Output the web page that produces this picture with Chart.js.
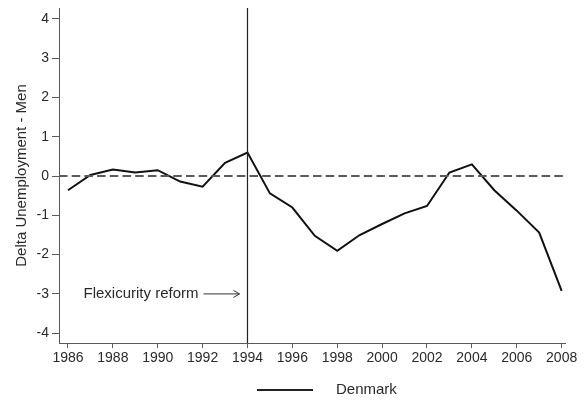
<!DOCTYPE html>
<html><head><meta charset="utf-8">
<script src="https://cdn.jsdelivr.net/npm/chart.js@4/dist/chart.umd.min.js"></script>
<style>html,body{margin:0;padding:0;background:#fff}#wrap{width:587px;height:401px}</style>
</head><body><div id="wrap"><canvas id="c" width="587" height="401"></canvas></div>
<script>
const years = [1986,1987,1988,1989,1990,1991,1992,1993,1994,1995,1996,1997,1998,1999,2000,2001,2002,2003,2004,2005,2006,2007,2008];
const denmark = [-0.36,0.03,0.17,0.09,0.15,-0.14,-0.27,0.34,0.60,-0.44,-0.80,-1.52,-1.90,-1.50,-1.22,-0.95,-0.76,0.09,0.30,-0.36,-0.88,-1.44,-2.92];
const xTicks = [1986,1988,1990,1992,1994,1996,1998,2000,2002,2004,2006,2008];
const yTicks = [-4,-3,-2,-1,0,1,2,3,4];
const reformYear = 1994;
const seriesName = 'Denmark';
const yTitle = 'Delta Unemployment - Men';
const annotationText = 'Flexicurity reform';
const annotationY = -3;
const xMin = 1985.6, xMax = 2008.15, yMin = -4.25, yMax = 4.28;

const FONT = '"Liberation Sans", Arial, Helvetica, sans-serif';
const AXIS = '#5a5a5a';
const TEXT = '#2a2a2a';

const extras = {
  id: 'extras',
  afterDatasetsDraw(chart) {
    const ctx = chart.ctx, xs = chart.scales.x, ys = chart.scales.y;
    ctx.save();
    const yy = ys.getPixelForValue(annotationY);
    const xr = xs.getPixelForValue(reformYear);
    ctx.font = '15px ' + FONT;
    ctx.fillStyle = TEXT;
    ctx.textAlign = 'right';
    ctx.textBaseline = 'middle';
    ctx.fillText(annotationText, xr - 49, yy);
    ctx.strokeStyle = '#333';
    ctx.lineWidth = 1;
    ctx.beginPath();
    ctx.moveTo(xr - 44, yy); ctx.lineTo(xr - 8, yy);
    ctx.moveTo(xr - 14, yy - 3.5); ctx.lineTo(xr - 8, yy); ctx.lineTo(xr - 14, yy + 3.5);
    ctx.stroke();
    const ly = 390;
    ctx.strokeStyle = '#222';
    ctx.lineWidth = 2;
    ctx.beginPath(); ctx.moveTo(257, ly); ctx.lineTo(313, ly); ctx.stroke();
    ctx.textAlign = 'left';
    ctx.fillStyle = TEXT;
    ctx.fillText(seriesName, 336, ly);
    ctx.restore();
  }
};

new Chart(document.getElementById('c'), {
  type: 'line',
  data: {
    datasets: [
      { label: 'zero', data: [{x:xMin,y:0},{x:xMax,y:0}], borderColor: '#5a5a5a', borderWidth: 2, borderDash: [8.5,4.2], pointRadius: 0 },
      { label: 'reform', data: [{x:reformYear,y:yMin},{x:reformYear,y:yMax}], borderColor: '#222', borderWidth: 1.2, pointRadius: 0 },
      { label: seriesName, data: years.map((y,i)=>({x:y,y:denmark[i]})), borderColor: '#111', borderWidth: 2, pointRadius: 0, tension: 0 }
    ]
  },
  options: {
    responsive: false,
    animation: false,
    layout: { padding: { top: 8, right: 22, bottom: 28, left: 0 } },
    plugins: { legend: { display: false }, tooltip: { enabled: false } },
    scales: {
      x: {
        type: 'linear', min: xMin, max: xMax,
        afterBuildTicks: s => { s.ticks = xTicks.map(v => ({value: v})); },
        afterFit: s => { s.height = 30; s.paddingLeft = 0; s.paddingRight = 0; },
        grid: { drawOnChartArea: false, tickLength: 5, color: AXIS, lineWidth: 1 },
        border: { color: AXIS, width: 1 },
        ticks: { color: TEXT, font: { family: FONT, size: 14 }, padding: 2, maxRotation: 0, autoSkip: false, callback: v => String(v) }
      },
      y: {
        min: yMin, max: yMax,
        afterBuildTicks: s => { s.ticks = yTicks.map(v => ({value: v})); },
        afterFit: s => { s.width = 59; s.paddingTop = 0; s.paddingBottom = 0; },
        grid: { drawOnChartArea: false, tickLength: 7, color: AXIS, lineWidth: 1 },
        border: { color: AXIS, width: 1 },
        ticks: { color: TEXT, font: { family: FONT, size: 14 }, padding: 3, callback: v => String(v) },
        title: { display: true, text: yTitle, color: TEXT, font: { family: FONT, size: 15 }, padding: { top: 13, bottom: 0 } }
      }
    }
  },
  plugins: [extras]
});
</script></body></html>
